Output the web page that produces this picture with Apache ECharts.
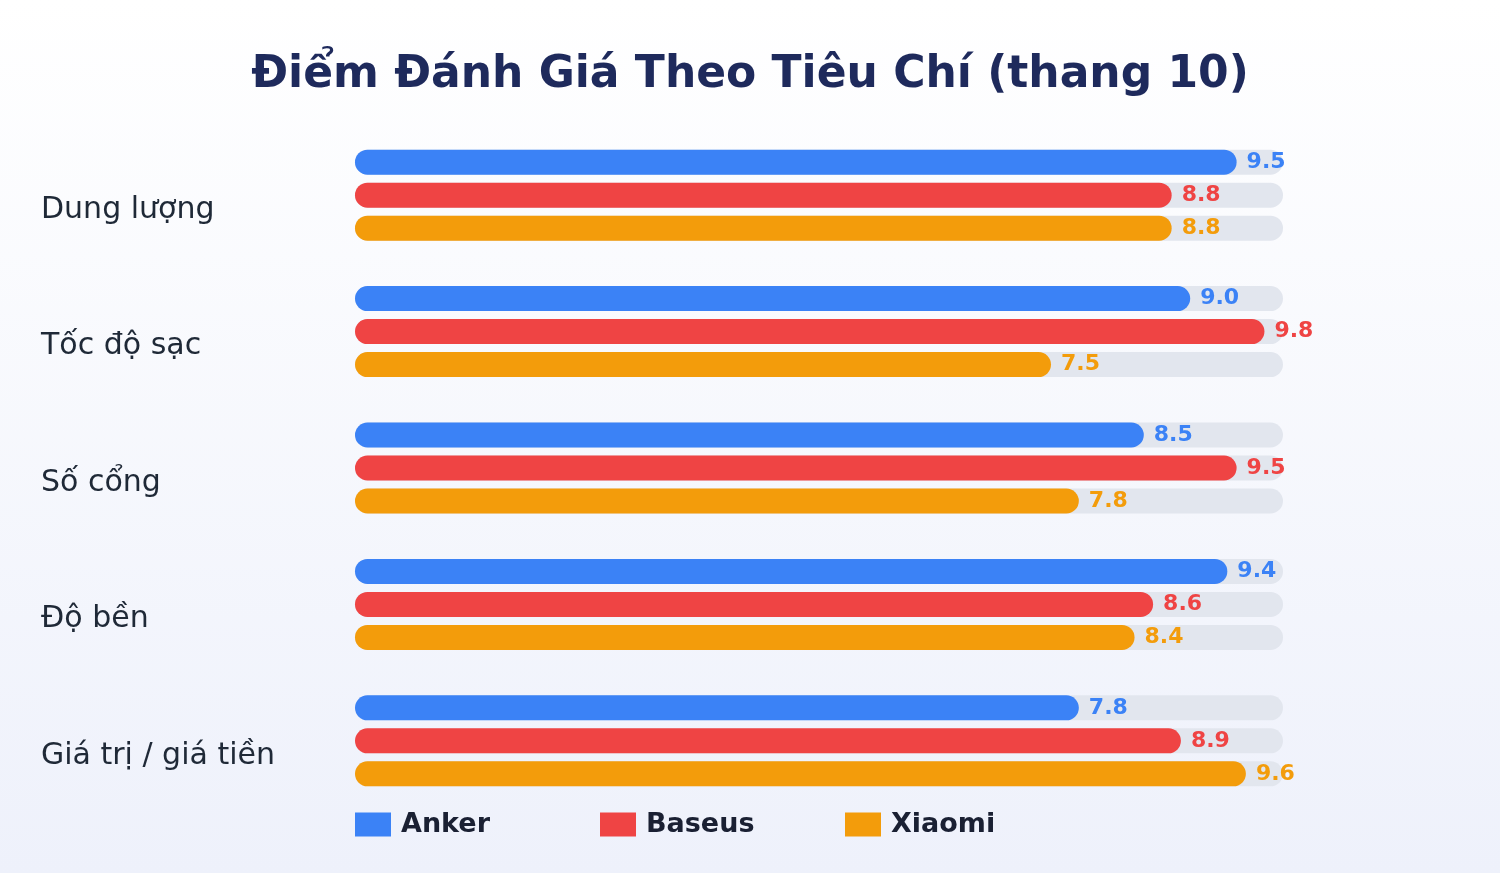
<!DOCTYPE html>
<html><head><meta charset="utf-8">
<script src="https://cdn.jsdelivr.net/npm/echarts@6/dist/echarts.min.js"></script>
<style>html,body{margin:0;padding:0;}#c{width:1500px;height:873px;background:linear-gradient(180deg,#ffffff 0%,#eef1fb 100%);}</style>
</head><body><div id="c"></div>
<script>
const categories = ['Dung lượng', 'Tốc độ sạc', 'Số cổng', 'Độ bền', 'Giá trị / giá tiền'];
const seriesNames = ['Anker', 'Baseus', 'Xiaomi'];
const anker = [9.5, 9.0, 8.5, 9.4, 7.8];
const baseus = [8.8, 9.8, 9.5, 8.6, 8.9];
const xiaomi = [8.8, 7.5, 7.8, 8.4, 9.6];
const colors = ['#3b82f6', '#ef4444', '#f39c0b'];
const font = 'DejaVu Sans';
const chart = echarts.init(document.getElementById('c'));
const dataSets = [anker, baseus, xiaomi];
const legendLefts = [355, 600, 845];
chart.setOption({
  backgroundColor: 'transparent',
  textStyle: {fontFamily: font},
  title: {text: 'Điểm Đánh Giá Theo Tiêu Chí (thang 10)', left: 'center', top: 49,
    textStyle: {fontFamily: font, fontSize: 44, fontWeight: 'bold', color: '#1e2a5c'}},
  legend: seriesNames.map((n, i) => ({left: legendLefts[i], top: 811, padding: 0, itemWidth: 36, itemHeight: 24, icon: 'rect',
    data: [n],
    textStyle: {fontFamily: font, fontSize: 27, fontWeight: 'bold', color: '#1a2033', padding: [0,0,0,5]}})),
  grid: {left: 355, right: 217, top: 127, bottom: 64, containLabel: false},
  xAxis: {type: 'value', min: 0, max: 10, show: false},
  yAxis: {type: 'category', data: categories, inverse: true,
    axisLine: {show: false}, axisTick: {show: false},
    axisLabel: {align: 'left', verticalAlign: 'top', lineHeight: 30, margin: 314, fontSize: 30, color: '#1f2937', fontFamily: font}},
  series: dataSets.map((d, i) => ({
    name: seriesNames[i], type: 'bar', data: d, barWidth: 25, barGap: '32%',
    itemStyle: {color: colors[i], borderRadius: 12.5},
    showBackground: true,
    backgroundStyle: {color: '#e2e6ee', borderRadius: 12.5},
    label: {show: true, position: 'right', distance: 10, formatter: p => p.value.toFixed(1),
      fontFamily: font, fontSize: 22, fontWeight: 'bold', color: colors[i]}
  }))
});
</script></body></html>
